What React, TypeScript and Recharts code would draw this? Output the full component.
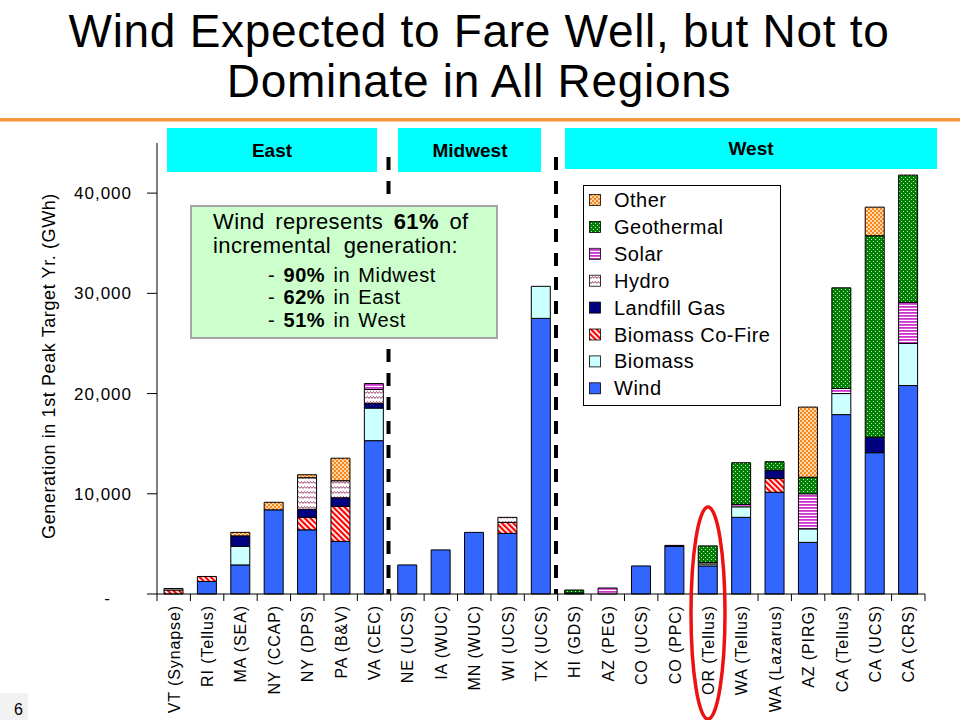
import { BarChart, Bar, XAxis, YAxis } from "recharts";

// categories and series (GWh)
const categories = [
  "VT (Synapse)", "RI (Tellus)", "MA (SEA)", "NY (CCAP)", "NY (DPS)", "PA (B&V)", "VA (CEC)",
  "NE (UCS)", "IA (WUC)", "MN (WUC)", "WI (UCS)", "TX (UCS)",
  "HI (GDS)", "AZ (PEG)", "CO (UCS)", "CO (PPC)", "OR (Tellus)", "WA (Tellus)", "WA (Lazarus)",
  "AZ (PIRG)", "CA (Tellus)", "CA (UCS)", "CA (CRS)",
];
const wind = [0, 1250, 2900, 8400, 6400, 5250, 15300, 2900, 4400, 6150, 6050, 27500, 100, 0, 2800, 4750, 2800, 7650, 10150, 5150, 17900, 14100, 20800];
const biomass = [0, 0, 1850, 0, 0, 0, 3250, 0, 0, 0, 0, 3200, 0, 0, 0, 0, 200, 1050, 0, 1350, 2100, 0, 4200];
const coFire = [400, 500, 0, 0, 1250, 3500, 0, 0, 0, 0, 1100, 0, 0, 0, 0, 0, 0, 0, 1400, 0, 0, 0, 0];
const landfill = [0, 0, 1050, 0, 800, 850, 450, 0, 0, 0, 0, 0, 0, 0, 0, 100, 0, 0, 800, 0, 0, 1550, 0];
const hydro = [150, 0, 0, 0, 3150, 1700, 1400, 0, 0, 0, 500, 0, 0, 0, 0, 0, 0, 0, 0, 0, 0, 0, 0];
const solar = [0, 0, 0, 0, 0, 0, 600, 0, 0, 0, 0, 0, 0, 600, 0, 0, 150, 250, 0, 3500, 500, 0, 4100];
const geothermal = [0, 0, 0, 0, 0, 0, 0, 0, 0, 0, 0, 0, 300, 0, 0, 0, 1650, 4150, 850, 1650, 10050, 20100, 12700];
const other = [0, 0, 350, 750, 300, 2250, 0, 0, 0, 0, 0, 0, 0, 0, 0, 0, 0, 0, 0, 7000, 0, 2850, 0];

const yTicks = [0, 10000, 20000, 30000, 40000];

const data = categories.map((name, i) => ({
  name,
  wind: wind[i],
  biomass: biomass[i],
  coFire: coFire[i],
  landfill: landfill[i],
  hydro: hydro[i],
  solar: solar[i],
  geothermal: geothermal[i],
  other: other[i],
}));

const SERIES = [
  { key: "wind", label: "Wind", pat: "wind" },
  { key: "biomass", label: "Biomass", pat: "biomass" },
  { key: "coFire", label: "Biomass Co-Fire", pat: "cofire" },
  { key: "landfill", label: "Landfill Gas", pat: "landfill" },
  { key: "hydro", label: "Hydro", pat: "hydro" },
  { key: "solar", label: "Solar", pat: "solar" },
  { key: "geothermal", label: "Geothermal", pat: "geo" },
  { key: "other", label: "Other", pat: "other" },
];

const FONT = "Arial, 'Liberation Sans', Helvetica, sans-serif";
const PLOT_LEFT = 157;
const PLOT_RIGHT = 925;
const BAND = (PLOT_RIGHT - PLOT_LEFT) / categories.length;

function Patterns({ p }: { p: string }) {
  return (
    <defs>
      <pattern id={`${p}wind`} width="4" height="4" patternUnits="userSpaceOnUse">
        <rect width="4" height="4" fill="#3366FF" />
      </pattern>
      <pattern id={`${p}biomass`} width="4" height="4" patternUnits="userSpaceOnUse">
        <rect width="4" height="4" fill="#CCFFFF" />
      </pattern>
      <pattern id={`${p}landfill`} width="4" height="4" patternUnits="userSpaceOnUse">
        <rect width="4" height="4" fill="#000080" />
      </pattern>
      <pattern id={`${p}cofire`} width="4" height="4" patternUnits="userSpaceOnUse" patternTransform="rotate(-45)">
        <rect width="4" height="4" fill="#FFFFFF" />
        <rect width="2.2" height="4" fill="#FF0000" />
      </pattern>
      <pattern id={`${p}hydro`} width="6" height="5" patternUnits="userSpaceOnUse">
        <rect width="6" height="5" fill="#FFFFFF" />
        <path d="M0 3.5 L1.5 1.5 L3 3.5 L4.5 1.5 L6 3.5" fill="none" stroke="#993366" strokeWidth="0.9" />
      </pattern>
      <pattern id={`${p}solar`} width="4" height="3" patternUnits="userSpaceOnUse">
        <rect width="4" height="3" fill="#FFFFFF" />
        <rect width="4" height="1.8" fill="#CC33CC" />
      </pattern>
      <pattern id={`${p}geo`} width="4" height="4" patternUnits="userSpaceOnUse">
        <rect width="4" height="4" fill="#008000" />
        <rect x="1" y="1" width="0.9" height="0.9" fill="#FFFFFF" />
        <rect x="3" y="3" width="0.9" height="0.9" fill="#FFFFFF" />
      </pattern>
      <pattern id={`${p}other`} width="4" height="4" patternUnits="userSpaceOnUse">
        <rect width="4" height="4" fill="#FFD9A8" />
        <rect width="2" height="2" fill="#F7861F" />
        <rect x="2" y="2" width="2" height="2" fill="#F7861F" />
      </pattern>
    </defs>
  );
}

function XTick(props: any) {
  const { x, y, payload, index } = props;
  return (
    <g>
      {index === 0 && <line x1={x - BAND / 2} y1={y} x2={x - BAND / 2} y2={y + 7} stroke="#000" />}
      <line x1={x + BAND / 2} y1={y} x2={x + BAND / 2} y2={y + 7} stroke="#000" />
      <text
        transform={`translate(${x + 6},${y + 11}) rotate(-90)`}
        textAnchor="end"
        fontSize={16}
        letterSpacing={0.9}
        fontFamily={FONT}
        fill="#000"
      >
        {payload.value}
      </text>
    </g>
  );
}

function YTick(props: any) {
  const { x, y, payload } = props;
  if (payload.value === 0) {
    return (
      <text x={x - 25} y={y + 10} textAnchor="middle" fontSize={17} fontFamily={FONT} fill="#000">
        -
      </text>
    );
  }
  return (
    <text x={x} y={y + 6} textAnchor="end" fontSize={17} letterSpacing={1} fontFamily={FONT} fill="#000">
      {payload.value.toLocaleString("en-US")}
    </text>
  );
}

const legendOrder = [...SERIES].reverse();

export default function App() {
  return (
    <div style={{ position: "absolute", left: 0, top: 0, width: 960, height: 720, background: "#fff", overflow: "hidden" }}>
      <div style={{ position: "absolute", left: 0, top: 0 }}>
        <BarChart
          width={960}
          height={720}
          data={data}
          margin={{ top: 143, right: 960 - PLOT_RIGHT, left: 0, bottom: 0 }}
          barSize={19}
        >
          <Patterns p="B" />
          <XAxis
            dataKey="name"
            height={126}
            interval={0}
            tick={<XTick />}
            tickLine={false}
            tickSize={0}
            tickMargin={0}
            axisLine={{ stroke: "#000" }}
          />
          <YAxis
            width={PLOT_LEFT}
            domain={[0, 45000]}
            ticks={yTicks}
            tick={<YTick />}
            tickSize={10}
            tickMargin={15}
            tickLine={{ stroke: "#000" }}
            axisLine={{ stroke: "#000" }}
          />
          {SERIES.map((s) => (
            <Bar
              key={s.key}
              dataKey={s.key}
              stackId="a"
              fill={`url(#B${s.pat})`}
              stroke="#000"
              strokeWidth={1}
              isAnimationActive={false}
            />
          ))}
        </BarChart>
      </div>
      <svg
        width={960}
        height={720}
        style={{ position: "absolute", left: 0, top: 0, pointerEvents: "none" }}
        fontFamily={FONT}
      >
        <Patterns p="L" />
        {/* title */}
        <text x={479} y={47} textAnchor="middle" fontSize={46} letterSpacing={0.7} fill="#000">
          Wind Expected to Fare Well, but Not to
        </text>
        <text x={479} y={97} textAnchor="middle" fontSize={46} letterSpacing={0.7} fill="#000">
          Dominate in All Regions
        </text>
        <rect x={0} y={118} width={960} height={3.5} fill="#F7963A" />

        {/* region headers */}
        <rect x={167} y={128} width={210} height={44} fill="#00FFFF" />
        <rect x={398} y={128} width={143} height={44} fill="#00FFFF" />
        <rect x={565} y={128} width={372} height={41} fill="#00FFFF" />
        <text x={272} y={157} textAnchor="middle" fontSize={19} fontWeight="bold" fill="#000">East</text>
        <text x={470} y={157} textAnchor="middle" fontSize={19} fontWeight="bold" fill="#000">Midwest</text>
        <text x={751} y={155} textAnchor="middle" fontSize={19} fontWeight="bold" fill="#000">West</text>

        {/* region dividers */}
        <line x1={388.5} y1={157} x2={388.5} y2={594} stroke="#000" strokeWidth={4} strokeDasharray="13 11" />
        <line x1={556} y1={157} x2={556} y2={594} stroke="#000" strokeWidth={4} strokeDasharray="13 11" />

        {/* callout */}
        <rect x={191} y={206} width={306} height={132} fill="#CCFFCC" stroke="#A6A6A6" strokeWidth={2} />
        <text x={213} y={229} fontSize={22} letterSpacing={0.4} wordSpacing={4} fill="#000">
          Wind represents <tspan fontWeight="bold">61%</tspan> of
        </text>
        <text x={213} y={253} fontSize={22} letterSpacing={0.4} wordSpacing={6} fill="#000">
          incremental generation:
        </text>
        <text x={268} y={282} fontSize={20} letterSpacing={0.6} wordSpacing={2} fill="#000">
          - <tspan fontWeight="bold">90%</tspan> in Midwest
        </text>
        <text x={268} y={304} fontSize={20} letterSpacing={0.6} wordSpacing={2} fill="#000">
          - <tspan fontWeight="bold">62%</tspan> in East
        </text>
        <text x={268} y={327} fontSize={20} letterSpacing={0.6} wordSpacing={2} fill="#000">
          - <tspan fontWeight="bold">51%</tspan> in West
        </text>

        {/* legend */}
        <rect x={583.5} y={185.5} width={197} height={220} fill="#fff" stroke="#000" strokeWidth={1} />
        {legendOrder.map((s, i) => {
          const cy = 200 + i * 26.9;
          return (
            <g key={s.key}>
              <rect x={589.5} y={cy - 5.5} width={11} height={11} fill={`url(#L${s.pat})`} stroke="#000" strokeWidth={0.8} />
              <text x={614} y={cy + 7} fontSize={20} letterSpacing={0.5} fill="#000">
                {s.label}
              </text>
            </g>
          );
        })}

        {/* axis title */}
        <text
          transform="translate(55,366) rotate(-90)"
          textAnchor="middle"
          fontSize={18}
          letterSpacing={0.6}
          fill="#000"
        >
          Generation in 1st Peak Target Yr. (GWh)
        </text>

        {/* highlight around Oregon */}
        <ellipse cx={708} cy={613} rx={17} ry={106} fill="none" stroke="#EE1111" strokeWidth={3.5} />

        {/* slide number */}
        <rect x={0} y={693} width={28} height={27} fill="#F2F2F2" />
        <text x={14} y={715} fontSize={16} fill="#000">6</text>
      </svg>
    </div>
  );
}
